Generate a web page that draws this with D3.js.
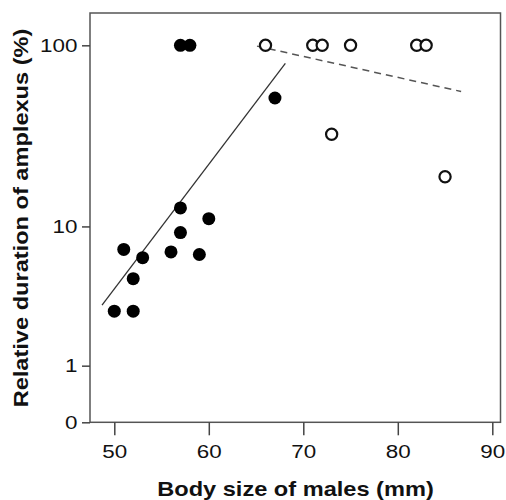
<!DOCTYPE html>
<html>
	<head>
		<meta charset="utf-8">
		<title>Amplexus duration vs body size</title>
		<script src="https://d3js.org/d3.v7.min.js"></script>
		<style type="text/css">
			body { margin: 0; background: #fff; }
			svg text { font-family: "Liberation Sans", Arial, sans-serif; fill: #111; }
			.tick text { font-size: 19px; }
			.axis-title { font-size: 20px; font-weight: bold; }
		</style>
	</head>
	<body>
		<div id="chart"></div>
	</body>
</html>
<script type="text/javascript">

	// males in amplexus for the whole time (filled) / partly (open)
	var filledX = [50, 52, 52, 53, 51, 56, 59, 57, 57, 60, 57, 58, 67];
	var filledY = [2.9, 2.9, 4.8, 6.5, 7.3, 7.05, 6.8, 9.2, 12.8, 11.1, 100, 100, 52];
	var openX = [66, 71, 72, 75, 82, 83, 73, 85];
	var openY = [100, 100, 100, 100, 100, 100, 33, 19.2];

	// fitted lines (end points)
	var solidFitX = [48.7, 68.1];
	var solidFitY = [3.2, 80];
	var dashFitX = [65.1, 86.7];
	var dashFitY = [99, 56.4];

	var xTicks = [50, 60, 70, 80, 90];
	var yTicks = [0, 1, 10, 100];

	const width = 506, height = 500;
	const plotLeft = 90, plotRight = 500.5, plotTop = 13, plotBottom = 422.3;
	const stretch = 1.18; // the original lettering is a bit wide

	const svg = d3.select('#chart').append('svg')
		.attr('width', width)
		.attr('height', height);

	// x is linear, y is log(v + 1)
	const x = d3.scaleLinear().domain([50, 90]).range([114.3, 492.3]);
	const y = d3.scaleSymlog().constant(1).domain([0, 149]).range([plotBottom, plotTop]);

	//frame
	svg.append('rect')
		.attr('x', plotLeft).attr('y', plotTop)
		.attr('width', plotRight - plotLeft).attr('height', plotBottom - plotTop)
		.attr('fill', 'none')
		.attr('stroke', '#555')
		.attr('stroke-width', 1.5);

	//axes
	const xAxis = svg.append('g')
		.attr('transform', 'translate(0,' + plotBottom + ')')
		.call(d3.axisBottom(x).tickValues(xTicks).tickSize(13).tickPadding(9));
	xAxis.select('.domain').remove();
	xAxis.selectAll('.tick text').attr('transform', 'scale(' + stretch + ',1)');

	const yAxis = svg.append('g')
		.attr('transform', 'translate(' + plotLeft + ',0)')
		.call(d3.axisLeft(y).tickValues(yTicks).tickFormat(d3.format('d')).tickSize(8).tickPadding(4));
	yAxis.select('.domain').remove();
	yAxis.selectAll('.tick text')
		.attr('x', -12.5 / stretch)
		.attr('transform', 'scale(' + stretch + ',1)');

	svg.selectAll('.tick line').attr('stroke', '#444').attr('stroke-width', 1.5);

	//fitted lines
	const line = d3.line().x(d => x(d[0])).y(d => y(d[1]));

	svg.append('path')
		.attr('d', line(d3.zip(solidFitX, solidFitY)))
		.attr('fill', 'none')
		.attr('stroke', '#333')
		.attr('stroke-width', 1.3);

	svg.append('path')
		.attr('d', line(d3.zip(dashFitX, dashFitY)))
		.attr('fill', 'none')
		.attr('stroke', '#555')
		.attr('stroke-width', 1.5)
		.attr('stroke-dasharray', '7,5');

	//points
	svg.append('g').selectAll('circle')
		.data(d3.zip(filledX, filledY))
		.enter().append('circle')
		.attr('cx', d => x(d[0]))
		.attr('cy', d => y(d[1]))
		.attr('r', 6.5)
		.attr('fill', '#000');

	svg.append('g').selectAll('circle')
		.data(d3.zip(openX, openY))
		.enter().append('circle')
		.attr('cx', d => x(d[0]))
		.attr('cy', d => y(d[1]))
		.attr('r', 5.6)
		.attr('fill', '#fff')
		.attr('stroke', '#111')
		.attr('stroke-width', 2.2);

	//axis titles
	svg.append('text')
		.attr('class', 'axis-title')
		.attr('transform', 'translate(295.5,496) scale(' + stretch + ',1)')
		.attr('text-anchor', 'middle')
		.text('Body size of males (mm)');

	svg.append('text')
		.attr('class', 'axis-title')
		.attr('transform', 'translate(27.5,218) rotate(-90) scale(' + stretch + ',1)')
		.attr('text-anchor', 'middle')
		.text('Relative duration of amplexus (%)');

</script>
